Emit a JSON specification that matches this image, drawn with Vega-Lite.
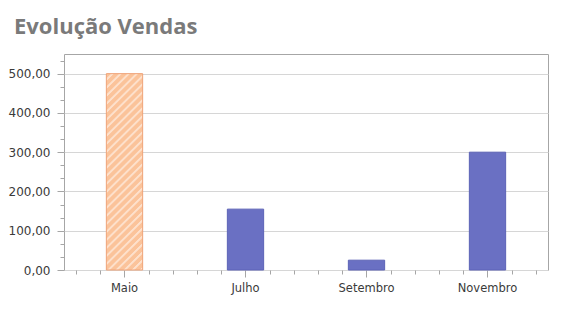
{
  "$schema": "https://vega.github.io/schema/vega-lite/v6.json",
  "width": 484,
  "height": 216,
  "autosize": "none",
  "padding": {"left": 64, "top": 54, "right": 25, "bottom": 48},
  "background": "white",
  "data": {"values": [
    {"mes": "Maio", "vendas": 500},
    {"mes": "Julho", "vendas": 155},
    {"mes": "Setembro", "vendas": 25},
    {"mes": "Novembro", "vendas": 300}
  ]},
  "title": {
    "text": "Evolução Vendas",
    "anchor": "start",
    "frame": "group",
    "dx": -50,
    "offset": -2,
    "baseline": "alphabetic",
    "font": "Open Sans",
    "fontSize": 22,
    "fontWeight": "bold",
    "color": "#7a7a7a"
  },
  "layer": [
    {
      "mark": {"type": "bar", "strokeWidth": 1},
      "encoding": {
        "x": {
          "field": "mes", "type": "nominal",
          "sort": ["Maio", "Julho", "Setembro", "Novembro"],
          "scale": {"paddingInner": 0.7, "paddingOuter": 0.35},
          "axis": {"title": null, "labelAngle": 0, "tickSize": 7, "labelPadding": 5, "domain": false, "grid": false, "orient": "bottom"}
        },
        "y": {
          "field": "vendas", "type": "quantitative",
          "scale": {"domain": [0, 550], "nice": false},
          "axis": {"title": null, "values": [0, 100, 200, 300, 400, 500], "format": ",.2f", "tickSize": 7, "labelPadding": 7, "domain": false, "grid": true, "orient": "left", "labelFontSize": 12}
        },
        "fill": {
          "condition": {
            "test": "datum.mes === 'Maio'",
            "value": {
              "gradient": "linear", "x1": 0, "y1": 0, "x2": 0.2094, "y2": 1.1447,
              "stops": [
                {"offset": 0.0, "color": "#fbc39a"}, {"offset": 0.01897, "color": "#fbc39a"}, {"offset": 0.02241, "color": "#fde0cb"}, {"offset": 0.03103, "color": "#fde0cb"},
                {"offset": 0.03448, "color": "#fbc39a"}, {"offset": 0.05345, "color": "#fbc39a"}, {"offset": 0.05690, "color": "#fde0cb"}, {"offset": 0.06552, "color": "#fde0cb"},
                {"offset": 0.06897, "color": "#fbc39a"}, {"offset": 0.08793, "color": "#fbc39a"}, {"offset": 0.09138, "color": "#fde0cb"}, {"offset": 0.10000, "color": "#fde0cb"},
                {"offset": 0.10345, "color": "#fbc39a"}, {"offset": 0.12241, "color": "#fbc39a"}, {"offset": 0.12586, "color": "#fde0cb"}, {"offset": 0.13448, "color": "#fde0cb"},
                {"offset": 0.13793, "color": "#fbc39a"}, {"offset": 0.15690, "color": "#fbc39a"}, {"offset": 0.16034, "color": "#fde0cb"}, {"offset": 0.16897, "color": "#fde0cb"},
                {"offset": 0.17241, "color": "#fbc39a"}, {"offset": 0.19138, "color": "#fbc39a"}, {"offset": 0.19483, "color": "#fde0cb"}, {"offset": 0.20345, "color": "#fde0cb"},
                {"offset": 0.20690, "color": "#fbc39a"}, {"offset": 0.22586, "color": "#fbc39a"}, {"offset": 0.22931, "color": "#fde0cb"}, {"offset": 0.23793, "color": "#fde0cb"},
                {"offset": 0.24138, "color": "#fbc39a"}, {"offset": 0.26034, "color": "#fbc39a"}, {"offset": 0.26379, "color": "#fde0cb"}, {"offset": 0.27241, "color": "#fde0cb"},
                {"offset": 0.27586, "color": "#fbc39a"}, {"offset": 0.29483, "color": "#fbc39a"}, {"offset": 0.29828, "color": "#fde0cb"}, {"offset": 0.30690, "color": "#fde0cb"},
                {"offset": 0.31034, "color": "#fbc39a"}, {"offset": 0.32931, "color": "#fbc39a"}, {"offset": 0.33276, "color": "#fde0cb"}, {"offset": 0.34138, "color": "#fde0cb"},
                {"offset": 0.34483, "color": "#fbc39a"}, {"offset": 0.36379, "color": "#fbc39a"}, {"offset": 0.36724, "color": "#fde0cb"}, {"offset": 0.37586, "color": "#fde0cb"},
                {"offset": 0.37931, "color": "#fbc39a"}, {"offset": 0.39828, "color": "#fbc39a"}, {"offset": 0.40172, "color": "#fde0cb"}, {"offset": 0.41034, "color": "#fde0cb"},
                {"offset": 0.41379, "color": "#fbc39a"}, {"offset": 0.43276, "color": "#fbc39a"}, {"offset": 0.43621, "color": "#fde0cb"}, {"offset": 0.44483, "color": "#fde0cb"},
                {"offset": 0.44828, "color": "#fbc39a"}, {"offset": 0.46724, "color": "#fbc39a"}, {"offset": 0.47069, "color": "#fde0cb"}, {"offset": 0.47931, "color": "#fde0cb"},
                {"offset": 0.48276, "color": "#fbc39a"}, {"offset": 0.50172, "color": "#fbc39a"}, {"offset": 0.50517, "color": "#fde0cb"}, {"offset": 0.51379, "color": "#fde0cb"},
                {"offset": 0.51724, "color": "#fbc39a"}, {"offset": 0.53621, "color": "#fbc39a"}, {"offset": 0.53966, "color": "#fde0cb"}, {"offset": 0.54828, "color": "#fde0cb"},
                {"offset": 0.55172, "color": "#fbc39a"}, {"offset": 0.57069, "color": "#fbc39a"}, {"offset": 0.57414, "color": "#fde0cb"}, {"offset": 0.58276, "color": "#fde0cb"},
                {"offset": 0.58621, "color": "#fbc39a"}, {"offset": 0.60517, "color": "#fbc39a"}, {"offset": 0.60862, "color": "#fde0cb"}, {"offset": 0.61724, "color": "#fde0cb"},
                {"offset": 0.62069, "color": "#fbc39a"}, {"offset": 0.63966, "color": "#fbc39a"}, {"offset": 0.64310, "color": "#fde0cb"}, {"offset": 0.65172, "color": "#fde0cb"},
                {"offset": 0.65517, "color": "#fbc39a"}, {"offset": 0.67414, "color": "#fbc39a"}, {"offset": 0.67759, "color": "#fde0cb"}, {"offset": 0.68621, "color": "#fde0cb"},
                {"offset": 0.68966, "color": "#fbc39a"}, {"offset": 0.70862, "color": "#fbc39a"}, {"offset": 0.71207, "color": "#fde0cb"}, {"offset": 0.72069, "color": "#fde0cb"},
                {"offset": 0.72414, "color": "#fbc39a"}, {"offset": 0.74310, "color": "#fbc39a"}, {"offset": 0.74655, "color": "#fde0cb"}, {"offset": 0.75517, "color": "#fde0cb"},
                {"offset": 0.75862, "color": "#fbc39a"}, {"offset": 0.77759, "color": "#fbc39a"}, {"offset": 0.78103, "color": "#fde0cb"}, {"offset": 0.78966, "color": "#fde0cb"},
                {"offset": 0.79310, "color": "#fbc39a"}, {"offset": 0.81207, "color": "#fbc39a"}, {"offset": 0.81552, "color": "#fde0cb"}, {"offset": 0.82414, "color": "#fde0cb"},
                {"offset": 0.82759, "color": "#fbc39a"}, {"offset": 0.84655, "color": "#fbc39a"}, {"offset": 0.85000, "color": "#fde0cb"}, {"offset": 0.85862, "color": "#fde0cb"},
                {"offset": 0.86207, "color": "#fbc39a"}, {"offset": 0.88103, "color": "#fbc39a"}, {"offset": 0.88448, "color": "#fde0cb"}, {"offset": 0.89310, "color": "#fde0cb"},
                {"offset": 0.89655, "color": "#fbc39a"}, {"offset": 0.91552, "color": "#fbc39a"}, {"offset": 0.91897, "color": "#fde0cb"}, {"offset": 0.92759, "color": "#fde0cb"},
                {"offset": 0.93103, "color": "#fbc39a"}, {"offset": 0.95000, "color": "#fbc39a"}, {"offset": 0.95345, "color": "#fde0cb"}, {"offset": 0.96207, "color": "#fde0cb"},
                {"offset": 0.96552, "color": "#fbc39a"}, {"offset": 0.98448, "color": "#fbc39a"}, {"offset": 0.98793, "color": "#fde0cb"}, {"offset": 0.99655, "color": "#fde0cb"},
                {"offset": 1.0, "color": "#fbc39a"}
              ]
            }
          },
          "value": "#6a70c3"
        },
        "stroke": {
          "condition": {"test": "datum.mes === 'Maio'", "value": "#efa379"},
          "value": "#5c62b6"
        }
      }
    },
    {
      "mark": {"type": "bar", "opacity": 0},
      "encoding": {
        "x": {"field": "mes", "type": "nominal", "sort": ["Maio", "Julho", "Setembro", "Novembro"],
          "axis": {"title": null, "labels": false, "domain": false, "grid": false, "tickSize": 4, "tickOffset": -48.4, "orient": "bottom"}},
        "y": {"field": "vendas", "type": "quantitative",
          "axis": {"title": null, "labels": false, "domain": false, "grid": false, "tickSize": 4, "orient": "left",
            "values": [33.33, 66.67, 133.33, 166.67, 233.33, 266.67, 333.33, 366.67, 433.33, 466.67, 533.33]}}
      }
    },
    {
      "mark": {"type": "bar", "opacity": 0},
      "encoding": {
        "x": {"field": "mes", "type": "nominal", "sort": ["Maio", "Julho", "Setembro", "Novembro"],
          "axis": {"title": null, "labels": false, "domain": false, "grid": false, "tickSize": 4, "tickOffset": -24.2, "orient": "bottom"}},
        "y": {"field": "vendas", "type": "quantitative", "axis": null}
      }
    },
    {
      "mark": {"type": "bar", "opacity": 0},
      "encoding": {
        "x": {"field": "mes", "type": "nominal", "sort": ["Maio", "Julho", "Setembro", "Novembro"],
          "axis": {"title": null, "labels": false, "domain": false, "grid": false, "tickSize": 4, "tickOffset": 24.2, "orient": "bottom"}},
        "y": {"field": "vendas", "type": "quantitative", "axis": null}
      }
    },
    {
      "mark": {"type": "bar", "opacity": 0},
      "encoding": {
        "x": {"field": "mes", "type": "nominal", "sort": ["Maio", "Julho", "Setembro", "Novembro"],
          "axis": {"title": null, "labels": false, "domain": false, "grid": false, "tickSize": 4, "tickOffset": 48.4, "orient": "bottom"}},
        "y": {"field": "vendas", "type": "quantitative", "axis": null}
      }
    }
  ],
  "resolve": {"axis": {"x": "independent", "y": "independent"}},
  "config": {
    "locale": {"number": {"decimal": ",", "thousands": ".", "grouping": [3], "currency": ["R$ ", ""]}},
    "view": {"stroke": "#a6a6a6", "strokeWidth": 1},
    "axis": {
      "labelFont": "DejaVu Sans",
      "labelFontSize": 11.5,
      "labelColor": "#3a3a3a",
      "tickColor": "#a6a6a6",
      "gridColor": "#d6d6d6",
      "domainColor": "#a6a6a6"
    }
  }
}
